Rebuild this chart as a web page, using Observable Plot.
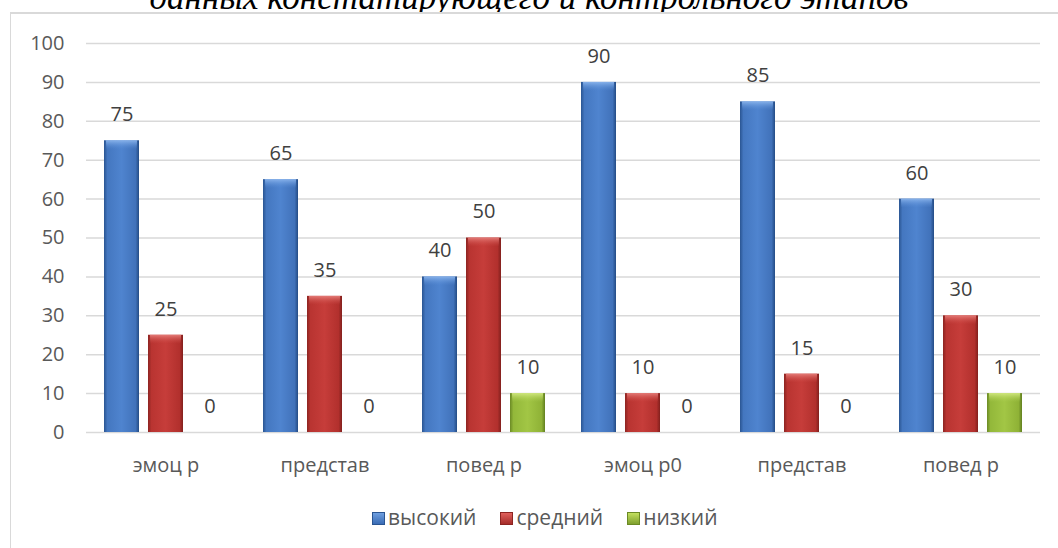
<!DOCTYPE html>
<html><head><meta charset="utf-8">
<script src="https://cdn.jsdelivr.net/npm/d3@7"></script>
<script src="https://cdn.jsdelivr.net/npm/@observablehq/plot@0.6"></script>
<style>
html,body{margin:0;padding:0;background:#fff;overflow:hidden;}
#wrap{position:relative;width:1058px;height:548px;overflow:hidden;}
#title{position:absolute;left:0;width:1058px;top:-20px;text-align:center;font-family:"Liberation Serif",serif;font-style:italic;font-size:35px;line-height:1;color:#000;white-space:nowrap;}
#frame{position:absolute;left:10px;top:12px;width:1060px;height:560px;background:#fff;border-left:1.5px solid #d9d9d9;border-top:2px solid #d9d9d9;box-sizing:border-box;}
#legend{position:absolute;top:503px;left:372px;white-space:nowrap;font-family:"Open Sans",sans-serif;font-size:21px;line-height:28px;color:#595959;}
#legend span.item{display:inline-block;margin-right:24px;}
#legend span.sw{display:inline-block;width:13px;height:13px;margin-right:3px;vertical-align:0px;box-sizing:border-box;}
#chart{position:absolute;left:0;top:0;}
</style></head>
<body>
<div id="wrap">
<div id="title">данных констатирующего и контрольного этапов</div>
<div id="frame"></div>
<div id="chart"></div>
<div id="legend"></div>
</div>
<svg width="0" height="0" style="position:absolute">
<defs>
<linearGradient id="gBlue" x1="0" x2="1" y1="0" y2="0">
<stop offset="0" stop-color="#2a5592"/><stop offset="0.1" stop-color="#4477c0"/><stop offset="0.5" stop-color="#4f84cf"/><stop offset="0.9" stop-color="#4172ba"/><stop offset="1" stop-color="#244c85"/>
</linearGradient>
<linearGradient id="gRed" x1="0" x2="1" y1="0" y2="0">
<stop offset="0" stop-color="#8c2421"/><stop offset="0.1" stop-color="#b93431"/><stop offset="0.5" stop-color="#c63d3a"/><stop offset="0.9" stop-color="#b2302d"/><stop offset="1" stop-color="#82201d"/>
</linearGradient>
<linearGradient id="gGreen" x1="0" x2="1" y1="0" y2="0">
<stop offset="0" stop-color="#6b8a25"/><stop offset="0.1" stop-color="#93b83a"/><stop offset="0.5" stop-color="#a2c645"/><stop offset="0.9" stop-color="#8fb236"/><stop offset="1" stop-color="#628020"/>
</linearGradient>
<linearGradient id="tBlue" x1="0" x2="0" y1="0" y2="1">
<stop offset="0" stop-color="#8fb8ee" stop-opacity="0.9"/><stop offset="1" stop-color="#5a8fd8" stop-opacity="0"/>
</linearGradient>
<linearGradient id="tRed" x1="0" x2="0" y1="0" y2="1">
<stop offset="0" stop-color="#e8837f" stop-opacity="0.9"/><stop offset="1" stop-color="#cf4a46" stop-opacity="0"/>
</linearGradient>
<linearGradient id="tGreen" x1="0" x2="0" y1="0" y2="1">
<stop offset="0" stop-color="#d6ec86" stop-opacity="0.9"/><stop offset="1" stop-color="#aecf52" stop-opacity="0"/>
</linearGradient>
</defs>
</svg>
<script>
const categories = ["эмоц р", "представ", "повед р", "эмоц р0", "представ", "повед р"];
const seriesNames = ["высокий", "средний", "низкий"];
const high = [75, 65, 40, 90, 85, 60];
const mid = [25, 35, 50, 10, 15, 30];
const low = [0, 0, 10, 0, 0, 10];
const yTicks = [0, 10, 20, 30, 40, 50, 60, 70, 80, 90, 100];
const fills = ["url(#gBlue)", "url(#gRed)", "url(#gGreen)"];
const topFills = ["url(#tBlue)", "url(#tRed)", "url(#tGreen)"];
const legendFills = [
  "linear-gradient(180deg,#6f9fe0,#3a6cb5)",
  "linear-gradient(180deg,#e0605c,#a52c29)",
  "linear-gradient(180deg,#c2df5e,#7fa02e)"
];
const legendBorders = ["#2a5592", "#8c2421", "#6b8a25"];

const seriesValues = [high, mid, low];
const rows = [];
categories.forEach((c, i) => {
  seriesNames.forEach((s, j) => {
    rows.push({cat: i, series: s, value: seriesValues[j][i]});
  });
});

const chart = Plot.plot({
  width: 1058,
  height: 548,
  marginTop: 43,
  marginBottom: 116,
  marginLeft: 85,
  marginRight: 18,
  style: {fontFamily: "'Open Sans', sans-serif", fontSize: "20px", color: "#595959", background: "transparent"},
  fx: {domain: d3.range(categories.length), paddingInner: 0, paddingOuter: 0, label: null},
  x: {domain: seriesNames, paddingInner: 0.2, paddingOuter: 0.367, axis: null},
  y: {domain: [0, 100], label: null},
  marks: [
    Plot.gridY(yTicks, {stroke: "#d9d9d9", strokeOpacity: 1, strokeWidth: 1.5}),
    Plot.axisY(yTicks, {tickSize: 0, tickPadding: 22, fontSize: 20, fill: "#595959", label: null}),
    Plot.axisFx({anchor: "bottom", tickSize: 0, tickPadding: 25, fontSize: 20, fill: "#595959", label: null, tickFormat: i => categories[i]}),
    ...seriesNames.map((s, j) => Plot.barY(rows.filter(r => r.series === s), {fx: "cat", x: "series", y: "value", fill: fills[j]})),
    ...seriesNames.map((s, j) => Plot.barY(rows.filter(r => r.series === s && r.value > 0), {fx: "cat", x: "series", y1: "value", y2: "value", insetBottom: -9, insetLeft: 2, insetRight: 2, fill: topFills[j]})),
    Plot.text(rows, {fx: "cat", x: "series", y: "value", text: d => String(d.value), dy: -26, fill: "#404040", fontSize: 20})
  ]
});
document.getElementById("chart").appendChild(chart);

const legend = document.getElementById("legend");
seriesNames.forEach((s, j) => {
  const item = document.createElement("span");
  item.className = "item";
  const sw = document.createElement("span");
  sw.className = "sw";
  sw.style.background = legendFills[j];
  sw.style.border = "1px solid " + legendBorders[j];
  item.appendChild(sw);
  item.appendChild(document.createTextNode(s));
  legend.appendChild(item);
});
</script>
</body></html>
